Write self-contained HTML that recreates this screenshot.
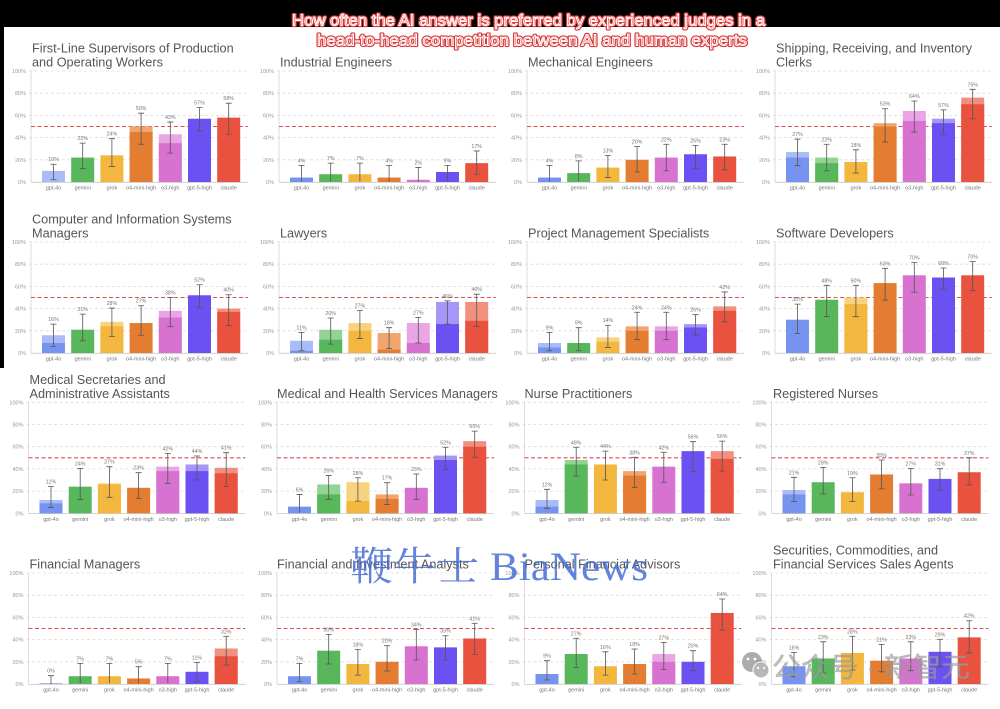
<!DOCTYPE html>
<html><head><meta charset="utf-8"><style>
html,body{margin:0;padding:0;background:#fff;}
svg{display:block;}
text{font-family:"Liberation Sans",Arial,sans-serif;}
.tick{font-size:5.5px;fill:#999;text-anchor:end;}
.val{font-size:5.3px;fill:#777;text-anchor:middle;}
.cat{font-size:5.5px;fill:#777;text-anchor:middle;}
.ttl{font-size:12.7px;fill:#555;}
.err{stroke:#555;stroke-width:.8;fill:none;}
</style></head><body>
<svg width="1000" height="709" viewBox="0 0 1000 709" xmlns="http://www.w3.org/2000/svg">
<defs>
<g id="grid">
<path d="M-2 -22.2H217M-2 -44.4H217M-2 -66.6H217M-2 -88.8H217M-2 -111H217" stroke="#dcdcdc" stroke-width=".8" stroke-dasharray="3 2.5" fill="none"/>
<path d="M0 0V-111" stroke="#d3d3d3" stroke-width=".8"/>
<path d="M0 .3H217" stroke="#c8c8c8" stroke-width=".8"/>
<path d="M0 -55.5H217" stroke="#dc5050" stroke-width="1.1" stroke-dasharray="4 2.5"/>
</g>
</defs>
<rect width="1000" height="709" fill="#fff"/>
<rect x="0" y="0" width="1000" height="27" fill="#000"/>
<rect x="0" y="27" width="4" height="341" fill="#000"/>

<!-- Chart 1 -->
<g transform="translate(31,182)">
<use href="#grid"/>
<g transform="scale(1,-1.11)">
<rect x="11" width="23" height="10" fill="#a9bcf7"/>
<rect x="40.2" width="23" height="22" fill="#58b65b"/>
<rect x="69.4" width="23" height="24" fill="#f3b63f"/>
<rect x="98.6" width="23" height="50" fill="#f0a66e"/><rect x="98.6" width="23" height="45" fill="#e47d31"/>
<rect x="127.8" width="23" height="43" fill="#eaa5e4"/><rect x="127.8" width="23" height="35" fill="#d872d1"/>
<rect x="157" width="23" height="57" fill="#6b50f2"/>
<rect x="186.2" width="23" height="58" fill="#e8523f"/>
<path class="err" vector-effect="non-scaling-stroke" d="M22.5 2V16m-3 0h6M19.5 2h6M51.7 12V35m-3 0h6M48.7 12h6M80.9 14V39m-3 0h6M77.9 14h6M110.1 34V62m-3 0h6M107.1 34h6M139.3 26V54m-3 0h6M136.3 26h6M168.5 46V67m-3 0h6M165.5 46h6M197.7 43V71m-3 0h6M194.7 43h6"/>
</g>
<text class="tick"><tspan x="-5" y="2">0%</tspan><tspan x="-5" y="-20.2">20%</tspan><tspan x="-5" y="-42.4">40%</tspan><tspan x="-5" y="-64.6">60%</tspan><tspan x="-5" y="-86.8">80%</tspan><tspan x="-5" y="-109">100%</tspan></text>
<text class="val"><tspan x="22.5" y="-20.8">10%</tspan><tspan x="51.7" y="-41.9">22%</tspan><tspan x="80.9" y="-46.3">24%</tspan><tspan x="110.1" y="-71.8">50%</tspan><tspan x="139.3" y="-62.9">43%</tspan><tspan x="168.5" y="-77.4">57%</tspan><tspan x="197.7" y="-81.8">58%</tspan></text>
<text class="cat" y="7.5"><tspan x="22.5">gpt-4o</tspan><tspan x="51.7">gemini</tspan><tspan x="80.9">grok</tspan><tspan x="110.1">o4-mini-high</tspan><tspan x="139.3">o3-high</tspan><tspan x="168.5">gpt-5-high</tspan><tspan x="197.7">claude</tspan></text>
<text class="ttl"><tspan x="1" y="-129.5">First-Line Supervisors of Production</tspan><tspan x="1" y="-115.5">and Operating Workers</tspan></text>
</g>

<!-- Chart 2 -->
<g transform="translate(279,182)">
<use href="#grid"/>
<g transform="scale(1,-1.11)">
<rect x="11" width="23" height="4" fill="#7593ef"/>
<rect x="40.2" width="23" height="7" fill="#58b65b"/>
<rect x="69.4" width="23" height="7" fill="#f3b63f"/>
<rect x="98.6" width="23" height="4" fill="#e47d31"/>
<rect x="127.8" width="23" height="2" fill="#d872d1"/>
<rect x="157" width="23" height="9" fill="#6b50f2"/>
<rect x="186.2" width="23" height="17" fill="#e8523f"/>
<path class="err" vector-effect="non-scaling-stroke" d="M22.5 0.5V15m-3 0h6M51.7 0.5V17m-3 0h6M80.9 0.5V17m-3 0h6M110.1 0.5V15m-3 0h6M139.3 0.5V13m-3 0h6M168.5 0.5V15m-3 0h6M197.7 7V28m-3 0h6M194.7 7h6"/>
</g>
<text class="tick"><tspan x="-5" y="2">0%</tspan><tspan x="-5" y="-20.2">20%</tspan><tspan x="-5" y="-42.4">40%</tspan><tspan x="-5" y="-64.6">60%</tspan><tspan x="-5" y="-86.8">80%</tspan><tspan x="-5" y="-109">100%</tspan></text>
<text class="val"><tspan x="22.5" y="-19.7">4%</tspan><tspan x="51.7" y="-21.9">7%</tspan><tspan x="80.9" y="-21.9">7%</tspan><tspan x="110.1" y="-19.7">4%</tspan><tspan x="139.3" y="-17.4">2%</tspan><tspan x="168.5" y="-19.7">9%</tspan><tspan x="197.7" y="-34.1">17%</tspan></text>
<text class="cat" y="7.5"><tspan x="22.5">gpt-4o</tspan><tspan x="51.7">gemini</tspan><tspan x="80.9">grok</tspan><tspan x="110.1">o4-mini-high</tspan><tspan x="139.3">o3-high</tspan><tspan x="168.5">gpt-5-high</tspan><tspan x="197.7">claude</tspan></text>
<text class="ttl"><tspan x="1" y="-115.5">Industrial Engineers</tspan></text>
</g>

<!-- Chart 3 -->
<g transform="translate(527,182)">
<use href="#grid"/>
<g transform="scale(1,-1.11)">
<rect x="11" width="23" height="4" fill="#7593ef"/>
<rect x="40.2" width="23" height="8" fill="#58b65b"/>
<rect x="69.4" width="23" height="13" fill="#f3b63f"/>
<rect x="98.6" width="23" height="20" fill="#e47d31"/>
<rect x="127.8" width="23" height="22" fill="#d872d1"/>
<rect x="157" width="23" height="25" fill="#6b50f2"/>
<rect x="186.2" width="23" height="23" fill="#e8523f"/>
<path class="err" vector-effect="non-scaling-stroke" d="M22.5 0.5V15m-3 0h6M51.7 0.5V19m-3 0h6M80.9 4V24m-3 0h6M77.9 4h6M110.1 9V32m-3 0h6M107.1 9h6M139.3 10V34m-3 0h6M136.3 10h6M168.5 12V33m-3 0h6M165.5 12h6M197.7 11V34m-3 0h6M194.7 11h6"/>
</g>
<text class="tick"><tspan x="-5" y="2">0%</tspan><tspan x="-5" y="-20.2">20%</tspan><tspan x="-5" y="-42.4">40%</tspan><tspan x="-5" y="-64.6">60%</tspan><tspan x="-5" y="-86.8">80%</tspan><tspan x="-5" y="-109">100%</tspan></text>
<text class="val"><tspan x="22.5" y="-19.7">4%</tspan><tspan x="51.7" y="-24.1">8%</tspan><tspan x="80.9" y="-29.6">13%</tspan><tspan x="110.1" y="-38.5">20%</tspan><tspan x="139.3" y="-40.7">22%</tspan><tspan x="168.5" y="-39.6">25%</tspan><tspan x="197.7" y="-40.7">23%</tspan></text>
<text class="cat" y="7.5"><tspan x="22.5">gpt-4o</tspan><tspan x="51.7">gemini</tspan><tspan x="80.9">grok</tspan><tspan x="110.1">o4-mini-high</tspan><tspan x="139.3">o3-high</tspan><tspan x="168.5">gpt-5-high</tspan><tspan x="197.7">claude</tspan></text>
<text class="ttl"><tspan x="1" y="-115.5">Mechanical Engineers</tspan></text>
</g>

<!-- Chart 4 -->
<g transform="translate(775,182)">
<use href="#grid"/>
<g transform="scale(1,-1.11)">
<rect x="11" width="23" height="27" fill="#a9bcf7"/><rect x="11" width="23" height="22" fill="#7593ef"/>
<rect x="40.2" width="23" height="22" fill="#93d394"/><rect x="40.2" width="23" height="17" fill="#58b65b"/>
<rect x="69.4" width="23" height="18" fill="#f3b63f"/>
<rect x="98.6" width="23" height="53" fill="#f0a66e"/><rect x="98.6" width="23" height="50" fill="#e47d31"/>
<rect x="127.8" width="23" height="64" fill="#eaa5e4"/><rect x="127.8" width="23" height="55" fill="#d872d1"/>
<rect x="157" width="23" height="57" fill="#a597f7"/><rect x="157" width="23" height="53" fill="#6b50f2"/>
<rect x="186.2" width="23" height="76" fill="#f29080"/><rect x="186.2" width="23" height="70" fill="#e8523f"/>
<path class="err" vector-effect="non-scaling-stroke" d="M22.5 14.7V38.7m-3 0h6M19.5 14.7h6M51.7 10V34m-3 0h6M48.7 10h6M80.9 8V29m-3 0h6M77.9 8h6M110.1 36V66m-3 0h6M107.1 36h6M139.3 45V73m-3 0h6M136.3 45h6M168.5 43V65m-3 0h6M165.5 43h6M197.7 57V83.5m-3 0h6M194.7 57h6"/>
</g>
<text class="tick"><tspan x="-5" y="2">0%</tspan><tspan x="-5" y="-20.2">20%</tspan><tspan x="-5" y="-42.4">40%</tspan><tspan x="-5" y="-64.6">60%</tspan><tspan x="-5" y="-86.8">80%</tspan><tspan x="-5" y="-109">100%</tspan></text>
<text class="val"><tspan x="22.5" y="-46">27%</tspan><tspan x="51.7" y="-40.7">22%</tspan><tspan x="80.9" y="-35.2">18%</tspan><tspan x="110.1" y="-76.3">53%</tspan><tspan x="139.3" y="-84">64%</tspan><tspan x="168.5" y="-75.2">57%</tspan><tspan x="197.7" y="-95.7">75%</tspan></text>
<text class="cat" y="7.5"><tspan x="22.5">gpt-4o</tspan><tspan x="51.7">gemini</tspan><tspan x="80.9">grok</tspan><tspan x="110.1">o4-mini-high</tspan><tspan x="139.3">o3-high</tspan><tspan x="168.5">gpt-5-high</tspan><tspan x="197.7">claude</tspan></text>
<text class="ttl"><tspan x="1" y="-129.5">Shipping, Receiving, and Inventory</tspan><tspan x="1" y="-115.5">Clerks</tspan></text>
</g>

<!-- Chart 5 -->
<g transform="translate(31,353)">
<use href="#grid"/>
<g transform="scale(1,-1.11)">
<rect x="11" width="23" height="16" fill="#a9bcf7"/><rect x="11" width="23" height="9" fill="#7593ef"/>
<rect x="40.2" width="23" height="21" fill="#58b65b"/>
<rect x="69.4" width="23" height="28" fill="#f8d27c"/><rect x="69.4" width="23" height="24" fill="#f3b63f"/>
<rect x="98.6" width="23" height="27" fill="#e47d31"/>
<rect x="127.8" width="23" height="38" fill="#eaa5e4"/><rect x="127.8" width="23" height="32" fill="#d872d1"/>
<rect x="157" width="23" height="52" fill="#6b50f2"/>
<rect x="186.2" width="23" height="40" fill="#f29080"/><rect x="186.2" width="23" height="37" fill="#e8523f"/>
<path class="err" vector-effect="non-scaling-stroke" d="M22.5 6V26m-3 0h6M19.5 6h6M51.7 11V35m-3 0h6M48.7 11h6M80.9 15V40.5m-3 0h6M77.9 15h6M110.1 16V42.6m-3 0h6M107.1 16h6M139.3 23.7V50m-3 0h6M136.3 23.7h6M168.5 40.8V61.5m-3 0h6M165.5 40.8h6M197.7 24.6V52.5m-3 0h6M194.7 24.6h6"/>
</g>
<text class="tick"><tspan x="-5" y="2">0%</tspan><tspan x="-5" y="-20.2">20%</tspan><tspan x="-5" y="-42.4">40%</tspan><tspan x="-5" y="-64.6">60%</tspan><tspan x="-5" y="-86.8">80%</tspan><tspan x="-5" y="-109">100%</tspan></text>
<text class="val"><tspan x="22.5" y="-31.9">16%</tspan><tspan x="51.7" y="-41.9">21%</tspan><tspan x="80.9" y="-48">28%</tspan><tspan x="110.1" y="-50.3">27%</tspan><tspan x="139.3" y="-58.5">38%</tspan><tspan x="168.5" y="-71.3">52%</tspan><tspan x="197.7" y="-61.3">40%</tspan></text>
<text class="cat" y="7.5"><tspan x="22.5">gpt-4o</tspan><tspan x="51.7">gemini</tspan><tspan x="80.9">grok</tspan><tspan x="110.1">o4-mini-high</tspan><tspan x="139.3">o3-high</tspan><tspan x="168.5">gpt-5-high</tspan><tspan x="197.7">claude</tspan></text>
<text class="ttl"><tspan x="1" y="-129.5">Computer and Information Systems</tspan><tspan x="1" y="-115.5">Managers</tspan></text>
</g>

<!-- Chart 6 -->
<g transform="translate(279,353)">
<use href="#grid"/>
<g transform="scale(1,-1.11)">
<rect x="11" width="23" height="11" fill="#a9bcf7"/><rect x="11" width="23" height="2" fill="#7593ef"/>
<rect x="40.2" width="23" height="21" fill="#93d394"/><rect x="40.2" width="23" height="12" fill="#58b65b"/>
<rect x="69.4" width="23" height="27" fill="#f8d27c"/><rect x="69.4" width="23" height="20" fill="#f3b63f"/>
<rect x="98.6" width="23" height="18" fill="#f0a66e"/><rect x="98.6" width="23" height="3" fill="#e47d31"/>
<rect x="127.8" width="23" height="27" fill="#eaa5e4"/><rect x="127.8" width="23" height="9" fill="#d872d1"/>
<rect x="157" width="23" height="46" fill="#a597f7"/><rect x="157" width="23" height="26" fill="#6b50f2"/>
<rect x="186.2" width="23" height="46" fill="#f29080"/><rect x="186.2" width="23" height="29" fill="#e8523f"/>
<path class="err" vector-effect="non-scaling-stroke" d="M22.5 2V18.6m-3 0h6M19.5 2h6M51.7 8V31.5m-3 0h6M48.7 8h6M80.9 13V38.4m-3 0h6M77.9 13h6M110.1 4V22.8m-3 0h6M107.1 4h6M139.3 9V32.1m-3 0h6M136.3 9h6M168.5 26V47m-3 0h6M165.5 26h6M197.7 24V53m-3 0h6M194.7 24h6"/>
</g>
<text class="tick"><tspan x="-5" y="2">0%</tspan><tspan x="-5" y="-20.2">20%</tspan><tspan x="-5" y="-42.4">40%</tspan><tspan x="-5" y="-64.6">60%</tspan><tspan x="-5" y="-86.8">80%</tspan><tspan x="-5" y="-109">100%</tspan></text>
<text class="val"><tspan x="22.5" y="-23.6">11%</tspan><tspan x="51.7" y="-38">20%</tspan><tspan x="80.9" y="-45.6">27%</tspan><tspan x="110.1" y="-28.3">18%</tspan><tspan x="139.3" y="-38.6">27%</tspan><tspan x="168.5" y="-55.2">46%</tspan><tspan x="197.7" y="-61.8">46%</tspan></text>
<text class="cat" y="7.5"><tspan x="22.5">gpt-4o</tspan><tspan x="51.7">gemini</tspan><tspan x="80.9">grok</tspan><tspan x="110.1">o4-mini-high</tspan><tspan x="139.3">o3-high</tspan><tspan x="168.5">gpt-5-high</tspan><tspan x="197.7">claude</tspan></text>
<text class="ttl"><tspan x="1" y="-115.5">Lawyers</tspan></text>
</g>

<!-- Chart 7 -->
<g transform="translate(527,353)">
<use href="#grid"/>
<g transform="scale(1,-1.11)">
<rect x="11" width="23" height="9" fill="#a9bcf7"/><rect x="11" width="23" height="5" fill="#7593ef"/>
<rect x="40.2" width="23" height="9" fill="#58b65b"/>
<rect x="69.4" width="23" height="14" fill="#f8d27c"/><rect x="69.4" width="23" height="10" fill="#f3b63f"/>
<rect x="98.6" width="23" height="24" fill="#f0a66e"/><rect x="98.6" width="23" height="20" fill="#e47d31"/>
<rect x="127.8" width="23" height="24" fill="#eaa5e4"/><rect x="127.8" width="23" height="20" fill="#d872d1"/>
<rect x="157" width="23" height="26" fill="#a597f7"/><rect x="157" width="23" height="23" fill="#6b50f2"/>
<rect x="186.2" width="23" height="42" fill="#f29080"/><rect x="186.2" width="23" height="38" fill="#e8523f"/>
<path class="err" vector-effect="non-scaling-stroke" d="M22.5 2V18.6m-3 0h6M19.5 2h6M51.7 2V22.8m-3 0h6M48.7 2h6M80.9 5V25m-3 0h6M77.9 5h6M110.1 12V36.7m-3 0h6M107.1 12h6M139.3 12V36.7m-3 0h6M136.3 12h6M168.5 16V34.5m-3 0h6M165.5 16h6M197.7 28V55m-3 0h6M194.7 28h6"/>
</g>
<text class="tick"><tspan x="-5" y="2">0%</tspan><tspan x="-5" y="-20.2">20%</tspan><tspan x="-5" y="-42.4">40%</tspan><tspan x="-5" y="-64.6">60%</tspan><tspan x="-5" y="-86.8">80%</tspan><tspan x="-5" y="-109">100%</tspan></text>
<text class="val"><tspan x="22.5" y="-23.6">9%</tspan><tspan x="51.7" y="-28.3">9%</tspan><tspan x="80.9" y="-30.8">14%</tspan><tspan x="110.1" y="-43.7">24%</tspan><tspan x="139.3" y="-43.7">24%</tspan><tspan x="168.5" y="-41.3">26%</tspan><tspan x="197.7" y="-64">42%</tspan></text>
<text class="cat" y="7.5"><tspan x="22.5">gpt-4o</tspan><tspan x="51.7">gemini</tspan><tspan x="80.9">grok</tspan><tspan x="110.1">o4-mini-high</tspan><tspan x="139.3">o3-high</tspan><tspan x="168.5">gpt-5-high</tspan><tspan x="197.7">claude</tspan></text>
<text class="ttl"><tspan x="1" y="-115.5">Project Management Specialists</tspan></text>
</g>

<!-- Chart 8 -->
<g transform="translate(775,353)">
<use href="#grid"/>
<g transform="scale(1,-1.11)">
<rect x="11" width="23" height="30" fill="#7593ef"/>
<rect x="40.2" width="23" height="48" fill="#58b65b"/>
<rect x="69.4" width="23" height="50" fill="#f8d27c"/><rect x="69.4" width="23" height="44" fill="#f3b63f"/>
<rect x="98.6" width="23" height="63" fill="#e47d31"/>
<rect x="127.8" width="23" height="70" fill="#d872d1"/>
<rect x="157" width="23" height="68" fill="#6b50f2"/>
<rect x="186.2" width="23" height="70" fill="#e8523f"/>
<path class="err" vector-effect="non-scaling-stroke" d="M22.5 17.7V44m-3 0h6M19.5 17.7h6M51.7 32.7V61m-3 0h6M48.7 32.7h6M80.9 32.7V61m-3 0h6M77.9 32.7h6M110.1 47.7V76.3m-3 0h6M107.1 47.7h6M139.3 54.7V81.4m-3 0h6M136.3 54.7h6M168.5 57.4V76.6m-3 0h6M165.5 57.4h6M197.7 56.1V82.3m-3 0h6M194.7 56.1h6"/>
</g>
<text class="tick"><tspan x="-5" y="2">0%</tspan><tspan x="-5" y="-20.2">20%</tspan><tspan x="-5" y="-42.4">40%</tspan><tspan x="-5" y="-64.6">60%</tspan><tspan x="-5" y="-86.8">80%</tspan><tspan x="-5" y="-109">100%</tspan></text>
<text class="val"><tspan x="22.5" y="-51.8">30%</tspan><tspan x="51.7" y="-70.7">48%</tspan><tspan x="80.9" y="-70.7">50%</tspan><tspan x="110.1" y="-87.7">63%</tspan><tspan x="139.3" y="-93.4">70%</tspan><tspan x="168.5" y="-88">68%</tspan><tspan x="197.7" y="-94.4">70%</tspan></text>
<text class="cat" y="7.5"><tspan x="22.5">gpt-4o</tspan><tspan x="51.7">gemini</tspan><tspan x="80.9">grok</tspan><tspan x="110.1">o4-mini-high</tspan><tspan x="139.3">o3-high</tspan><tspan x="168.5">gpt-5-high</tspan><tspan x="197.7">claude</tspan></text>
<text class="ttl"><tspan x="1" y="-115.5">Software Developers</tspan></text>
</g>

<!-- Chart 9 -->
<g transform="translate(28.5,513.3)">
<use href="#grid"/>
<g transform="scale(1,-1.11)">
<rect x="11" width="23" height="12" fill="#a9bcf7"/><rect x="11" width="23" height="9" fill="#7593ef"/>
<rect x="40.2" width="23" height="24" fill="#58b65b"/>
<rect x="69.4" width="23" height="27" fill="#f8d27c"/><rect x="69.4" width="23" height="26" fill="#f3b63f"/>
<rect x="98.6" width="23" height="23" fill="#e47d31"/>
<rect x="127.8" width="23" height="42" fill="#eaa5e4"/><rect x="127.8" width="23" height="38" fill="#d872d1"/>
<rect x="157" width="23" height="44" fill="#a597f7"/><rect x="157" width="23" height="38" fill="#6b50f2"/>
<rect x="186.2" width="23" height="41" fill="#f29080"/><rect x="186.2" width="23" height="36" fill="#e8523f"/>
<path class="err" vector-effect="non-scaling-stroke" d="M22.5 5.4V24m-3 0h6M19.5 5.4h6M51.7 12.6V40.5m-3 0h6M48.7 12.6h6M80.9 14.4V42m-3 0h6M77.9 14.4h6M110.1 13.5V36.6m-3 0h6M107.1 13.5h6M139.3 27V54m-3 0h6M136.3 27h6M168.5 30V51.6m-3 0h6M165.5 30h6M197.7 24V54.6m-3 0h6M194.7 24h6"/>
</g>
<text class="tick"><tspan x="-5" y="2">0%</tspan><tspan x="-5" y="-20.2">20%</tspan><tspan x="-5" y="-42.4">40%</tspan><tspan x="-5" y="-64.6">60%</tspan><tspan x="-5" y="-86.8">80%</tspan><tspan x="-5" y="-109">100%</tspan></text>
<text class="val"><tspan x="22.5" y="-29.6">12%</tspan><tspan x="51.7" y="-48">24%</tspan><tspan x="80.9" y="-49.6">27%</tspan><tspan x="110.1" y="-43.6">23%</tspan><tspan x="139.3" y="-63">42%</tspan><tspan x="168.5" y="-60.3">44%</tspan><tspan x="197.7" y="-63.6">41%</tspan></text>
<text class="cat" y="7.5"><tspan x="22.5">gpt-4o</tspan><tspan x="51.7">gemini</tspan><tspan x="80.9">grok</tspan><tspan x="110.1">o4-mini-high</tspan><tspan x="139.3">o3-high</tspan><tspan x="168.5">gpt-5-high</tspan><tspan x="197.7">claude</tspan></text>
<text class="ttl"><tspan x="1" y="-129.5">Medical Secretaries and</tspan><tspan x="1" y="-115.5">Administrative Assistants</tspan></text>
</g>

<!-- Chart 10 -->
<g transform="translate(277,513.3)">
<use href="#grid"/>
<g transform="scale(1,-1.11)">
<rect x="11" width="23" height="6" fill="#7593ef"/>
<rect x="40.2" width="23" height="26" fill="#93d394"/><rect x="40.2" width="23" height="17" fill="#58b65b"/>
<rect x="69.4" width="23" height="28" fill="#f8d27c"/><rect x="69.4" width="23" height="11" fill="#f3b63f"/>
<rect x="98.6" width="23" height="17" fill="#f0a66e"/><rect x="98.6" width="23" height="13" fill="#e47d31"/>
<rect x="127.8" width="23" height="23" fill="#d872d1"/>
<rect x="157" width="23" height="52" fill="#a597f7"/><rect x="157" width="23" height="48" fill="#6b50f2"/>
<rect x="186.2" width="23" height="65" fill="#f29080"/><rect x="186.2" width="23" height="60" fill="#e8523f"/>
<path class="err" vector-effect="non-scaling-stroke" d="M22.5 0.5V17m-3 0h6M51.7 12.6V34m-3 0h6M48.7 12.6h6M80.9 11V32m-3 0h6M77.9 11h6M110.1 8V27.6m-3 0h6M107.1 8h6M139.3 12.6V35.4m-3 0h6M136.3 12.6h6M168.5 39.6V59.5m-3 0h6M165.5 39.6h6M197.7 50.5V74m-3 0h6M194.7 50.5h6"/>
</g>
<text class="tick"><tspan x="-5" y="2">0%</tspan><tspan x="-5" y="-20.2">20%</tspan><tspan x="-5" y="-42.4">40%</tspan><tspan x="-5" y="-64.6">60%</tspan><tspan x="-5" y="-86.8">80%</tspan><tspan x="-5" y="-109">100%</tspan></text>
<text class="val"><tspan x="22.5" y="-21.9">6%</tspan><tspan x="51.7" y="-40.7">26%</tspan><tspan x="80.9" y="-38.5">28%</tspan><tspan x="110.1" y="-33.6">17%</tspan><tspan x="139.3" y="-42.3">23%</tspan><tspan x="168.5" y="-69">52%</tspan><tspan x="197.7" y="-85.1">65%</tspan></text>
<text class="cat" y="7.5"><tspan x="22.5">gpt-4o</tspan><tspan x="51.7">gemini</tspan><tspan x="80.9">grok</tspan><tspan x="110.1">o4-mini-high</tspan><tspan x="139.3">o3-high</tspan><tspan x="168.5">gpt-5-high</tspan><tspan x="197.7">claude</tspan></text>
<text class="ttl"><tspan x="0" y="-115.5">Medical and Health Services Managers</tspan></text>
</g>

<!-- Chart 11 -->
<g transform="translate(524.5,513.3)">
<use href="#grid"/>
<g transform="scale(1,-1.11)">
<rect x="11" width="23" height="12" fill="#a9bcf7"/><rect x="11" width="23" height="6" fill="#7593ef"/>
<rect x="40.2" width="23" height="48" fill="#93d394"/><rect x="40.2" width="23" height="44" fill="#58b65b"/>
<rect x="69.4" width="23" height="44" fill="#f3b63f"/>
<rect x="98.6" width="23" height="38" fill="#f0a66e"/><rect x="98.6" width="23" height="34" fill="#e47d31"/>
<rect x="127.8" width="23" height="42" fill="#d872d1"/>
<rect x="157" width="23" height="56" fill="#6b50f2"/>
<rect x="186.2" width="23" height="56" fill="#f29080"/><rect x="186.2" width="23" height="49" fill="#e8523f"/>
<path class="err" vector-effect="non-scaling-stroke" d="M22.5 4.5V21.6m-3 0h6M19.5 4.5h6M51.7 33.6V59.5m-3 0h6M48.7 33.6h6M80.9 30V56m-3 0h6M77.9 30h6M110.1 23.4V50.5m-3 0h6M107.1 23.4h6M139.3 28V55m-3 0h6M136.3 28h6M168.5 37.5V64.5m-3 0h6M165.5 37.5h6M197.7 38V65m-3 0h6M194.7 38h6"/>
</g>
<text class="tick"><tspan x="-5" y="2">0%</tspan><tspan x="-5" y="-20.2">20%</tspan><tspan x="-5" y="-42.4">40%</tspan><tspan x="-5" y="-64.6">60%</tspan><tspan x="-5" y="-86.8">80%</tspan><tspan x="-5" y="-109">100%</tspan></text>
<text class="val"><tspan x="22.5" y="-27">12%</tspan><tspan x="51.7" y="-69">48%</tspan><tspan x="80.9" y="-65.2">44%</tspan><tspan x="110.1" y="-59">38%</tspan><tspan x="139.3" y="-64">42%</tspan><tspan x="168.5" y="-74.6">56%</tspan><tspan x="197.7" y="-75.2">56%</tspan></text>
<text class="cat" y="7.5"><tspan x="22.5">gpt-4o</tspan><tspan x="51.7">gemini</tspan><tspan x="80.9">grok</tspan><tspan x="110.1">o4-mini-high</tspan><tspan x="139.3">o3-high</tspan><tspan x="168.5">gpt-5-high</tspan><tspan x="197.7">claude</tspan></text>
<text class="ttl"><tspan x="0" y="-115.5">Nurse Practitioners</tspan></text>
</g>

<!-- Chart 12 -->
<g transform="translate(771.5,513.3)">
<use href="#grid"/>
<g transform="scale(1,-1.11)">
<rect x="11" width="23" height="21" fill="#a9bcf7"/><rect x="11" width="23" height="17" fill="#7593ef"/>
<rect x="40.2" width="23" height="28" fill="#58b65b"/>
<rect x="69.4" width="23" height="19" fill="#f3b63f"/>
<rect x="98.6" width="23" height="35" fill="#e47d31"/>
<rect x="127.8" width="23" height="27" fill="#d872d1"/>
<rect x="157" width="23" height="31" fill="#6b50f2"/>
<rect x="186.2" width="23" height="37" fill="#e8523f"/>
<path class="err" vector-effect="non-scaling-stroke" d="M22.5 10.5V32.4m-3 0h6M19.5 10.5h6M51.7 17.4V41.4m-3 0h6M48.7 17.4h6M80.9 10.5V32m-3 0h6M77.9 10.5h6M110.1 22V48m-3 0h6M107.1 22h6M139.3 16.5V40.5m-3 0h6M136.3 16.5h6M168.5 21V40.2m-3 0h6M165.5 21h6M197.7 25.5V50m-3 0h6M194.7 25.5h6"/>
</g>
<text class="tick"><tspan x="-5" y="2">0%</tspan><tspan x="-5" y="-20.2">20%</tspan><tspan x="-5" y="-42.4">40%</tspan><tspan x="-5" y="-64.6">60%</tspan><tspan x="-5" y="-86.8">80%</tspan><tspan x="-5" y="-109">100%</tspan></text>
<text class="val"><tspan x="22.5" y="-39">21%</tspan><tspan x="51.7" y="-49">28%</tspan><tspan x="80.9" y="-38.5">19%</tspan><tspan x="110.1" y="-56.3">35%</tspan><tspan x="139.3" y="-48">27%</tspan><tspan x="168.5" y="-47.6">31%</tspan><tspan x="197.7" y="-58.5">37%</tspan></text>
<text class="cat" y="7.5"><tspan x="22.5">gpt-4o</tspan><tspan x="51.7">gemini</tspan><tspan x="80.9">grok</tspan><tspan x="110.1">o4-mini-high</tspan><tspan x="139.3">o3-high</tspan><tspan x="168.5">gpt-5-high</tspan><tspan x="197.7">claude</tspan></text>
<text class="ttl"><tspan x="1.5" y="-115.5">Registered Nurses</tspan></text>
</g>

<!-- Chart 13 -->
<g transform="translate(28.5,684)">
<use href="#grid"/>
<g transform="scale(1,-1.11)">
<rect x="11" width="23" height="0.6" fill="#7593ef"/>
<rect x="40.2" width="23" height="7" fill="#58b65b"/>
<rect x="69.4" width="23" height="7" fill="#f3b63f"/>
<rect x="98.6" width="23" height="5" fill="#e47d31"/>
<rect x="127.8" width="23" height="7" fill="#d872d1"/>
<rect x="157" width="23" height="11" fill="#6b50f2"/>
<rect x="186.2" width="23" height="32" fill="#f29080"/><rect x="186.2" width="23" height="25" fill="#e8523f"/>
<path class="err" vector-effect="non-scaling-stroke" d="M22.5 0V7.5m-3 0h6M51.7 0.8V18.6m-3 0h6M80.9 0.8V18.6m-3 0h6M110.1 0.5V15.6m-3 0h6M139.3 0.8V18.6m-3 0h6M168.5 2V19.5m-3 0h6M165.5 2h6M197.7 17V43m-3 0h6M194.7 17h6"/>
</g>
<text class="tick"><tspan x="-5" y="2">0%</tspan><tspan x="-5" y="-20.2">20%</tspan><tspan x="-5" y="-42.4">40%</tspan><tspan x="-5" y="-64.6">60%</tspan><tspan x="-5" y="-86.8">80%</tspan><tspan x="-5" y="-109">100%</tspan></text>
<text class="val"><tspan x="22.5" y="-11.3">0%</tspan><tspan x="51.7" y="-23.6">7%</tspan><tspan x="80.9" y="-23.6">7%</tspan><tspan x="110.1" y="-20.3">5%</tspan><tspan x="139.3" y="-23.6">7%</tspan><tspan x="168.5" y="-24.6">11%</tspan><tspan x="197.7" y="-50.7">32%</tspan></text>
<text class="cat" y="7.5"><tspan x="22.5">gpt-4o</tspan><tspan x="51.7">gemini</tspan><tspan x="80.9">grok</tspan><tspan x="110.1">o4-mini-high</tspan><tspan x="139.3">o3-high</tspan><tspan x="168.5">gpt-5-high</tspan><tspan x="197.7">claude</tspan></text>
<text class="ttl"><tspan x="1" y="-115.5">Financial Managers</tspan></text>
</g>

<!-- Chart 14 -->
<g transform="translate(277,684)">
<use href="#grid"/>
<g transform="scale(1,-1.11)">
<rect x="11" width="23" height="7" fill="#7593ef"/>
<rect x="40.2" width="23" height="30" fill="#58b65b"/>
<rect x="69.4" width="23" height="18" fill="#f3b63f"/>
<rect x="98.6" width="23" height="20" fill="#e47d31"/>
<rect x="127.8" width="23" height="34" fill="#d872d1"/>
<rect x="157" width="23" height="33" fill="#6b50f2"/>
<rect x="186.2" width="23" height="41" fill="#e8523f"/>
<path class="err" vector-effect="non-scaling-stroke" d="M22.5 2V18.6m-3 0h6M19.5 2h6M51.7 18V44.7m-3 0h6M48.7 18h6M80.9 8V31.2m-3 0h6M77.9 8h6M110.1 11.7V34.5m-3 0h6M107.1 11.7h6M139.3 21.6V49.2m-3 0h6M136.3 21.6h6M168.5 21.6V43.5m-3 0h6M165.5 21.6h6M197.7 26.7V54.7m-3 0h6M194.7 26.7h6"/>
</g>
<text class="tick"><tspan x="-5" y="2">0%</tspan><tspan x="-5" y="-20.2">20%</tspan><tspan x="-5" y="-42.4">40%</tspan><tspan x="-5" y="-64.6">60%</tspan><tspan x="-5" y="-86.8">80%</tspan><tspan x="-5" y="-109">100%</tspan></text>
<text class="val"><tspan x="22.5" y="-23.6">7%</tspan><tspan x="51.7" y="-52.6">30%</tspan><tspan x="80.9" y="-37.6">18%</tspan><tspan x="110.1" y="-41.3">20%</tspan><tspan x="139.3" y="-57.6">34%</tspan><tspan x="168.5" y="-51.3">33%</tspan><tspan x="197.7" y="-63.7">41%</tspan></text>
<text class="cat" y="7.5"><tspan x="22.5">gpt-4o</tspan><tspan x="51.7">gemini</tspan><tspan x="80.9">grok</tspan><tspan x="110.1">o4-mini-high</tspan><tspan x="139.3">o3-high</tspan><tspan x="168.5">gpt-5-high</tspan><tspan x="197.7">claude</tspan></text>
<text class="ttl"><tspan x="0" y="-115.5">Financial and Investment Analysts</tspan></text>
</g>

<!-- Chart 15 -->
<g transform="translate(524.5,684)">
<use href="#grid"/>
<g transform="scale(1,-1.11)">
<rect x="11" width="23" height="9" fill="#7593ef"/>
<rect x="40.2" width="23" height="27" fill="#58b65b"/>
<rect x="69.4" width="23" height="16" fill="#f3b63f"/>
<rect x="98.6" width="23" height="18" fill="#e47d31"/>
<rect x="127.8" width="23" height="27" fill="#eaa5e4"/><rect x="127.8" width="23" height="20" fill="#d872d1"/>
<rect x="157" width="23" height="20" fill="#6b50f2"/>
<rect x="186.2" width="23" height="64" fill="#e8523f"/>
<path class="err" vector-effect="non-scaling-stroke" d="M22.5 3.6V21m-3 0h6M19.5 3.6h6M51.7 15V41.2m-3 0h6M48.7 15h6M80.9 8V29m-3 0h6M77.9 8h6M110.1 9V31.5m-3 0h6M107.1 9h6M139.3 13.2V37.5m-3 0h6M136.3 13.2h6M168.5 12V30m-3 0h6M165.5 12h6M197.7 48.6V76.6m-3 0h6M194.7 48.6h6"/>
</g>
<text class="tick"><tspan x="-5" y="2">0%</tspan><tspan x="-5" y="-20.2">20%</tspan><tspan x="-5" y="-42.4">40%</tspan><tspan x="-5" y="-64.6">60%</tspan><tspan x="-5" y="-86.8">80%</tspan><tspan x="-5" y="-109">100%</tspan></text>
<text class="val"><tspan x="22.5" y="-26.3">9%</tspan><tspan x="51.7" y="-48.7">27%</tspan><tspan x="80.9" y="-35.2">16%</tspan><tspan x="110.1" y="-38">18%</tspan><tspan x="139.3" y="-44.6">27%</tspan><tspan x="168.5" y="-36.3">20%</tspan><tspan x="197.7" y="-88">64%</tspan></text>
<text class="cat" y="7.5"><tspan x="22.5">gpt-4o</tspan><tspan x="51.7">gemini</tspan><tspan x="80.9">grok</tspan><tspan x="110.1">o4-mini-high</tspan><tspan x="139.3">o3-high</tspan><tspan x="168.5">gpt-5-high</tspan><tspan x="197.7">claude</tspan></text>
<text class="ttl"><tspan x="0" y="-115.5">Personal Financial Advisors</tspan></text>
</g>

<!-- Chart 16 -->
<g transform="translate(771.5,684)">
<use href="#grid"/>
<g transform="scale(1,-1.11)">
<rect x="11" width="23" height="16" fill="#7593ef"/>
<rect x="40.2" width="23" height="23" fill="#58b65b"/>
<rect x="69.4" width="23" height="28" fill="#f3b63f"/>
<rect x="98.6" width="23" height="21" fill="#e47d31"/>
<rect x="127.8" width="23" height="23" fill="#d872d1"/>
<rect x="157" width="23" height="29" fill="#6b50f2"/>
<rect x="186.2" width="23" height="42" fill="#e8523f"/>
<path class="err" vector-effect="non-scaling-stroke" d="M22.5 6.6V28.5m-3 0h6M19.5 6.6h6M51.7 10V38m-3 0h6M48.7 10h6M80.9 12.6V43m-3 0h6M77.9 12.6h6M110.1 11V35.7m-3 0h6M107.1 11h6M139.3 12V38m-3 0h6M136.3 12h6M168.5 15.6V40.3m-3 0h6M165.5 15.6h6M197.7 28V57m-3 0h6M194.7 28h6"/>
</g>
<text class="tick"><tspan x="-5" y="2">0%</tspan><tspan x="-5" y="-20.2">20%</tspan><tspan x="-5" y="-42.4">40%</tspan><tspan x="-5" y="-64.6">60%</tspan><tspan x="-5" y="-86.8">80%</tspan><tspan x="-5" y="-109">100%</tspan></text>
<text class="val"><tspan x="22.5" y="-34.6">16%</tspan><tspan x="51.7" y="-45.2">23%</tspan><tspan x="80.9" y="-50.7">28%</tspan><tspan x="110.1" y="-42.6">21%</tspan><tspan x="139.3" y="-45.2">23%</tspan><tspan x="168.5" y="-47.7">29%</tspan><tspan x="197.7" y="-66.3">42%</tspan></text>
<text class="cat" y="7.5"><tspan x="22.5">gpt-4o</tspan><tspan x="51.7">gemini</tspan><tspan x="80.9">grok</tspan><tspan x="110.1">o4-mini-high</tspan><tspan x="139.3">o3-high</tspan><tspan x="168.5">gpt-5-high</tspan><tspan x="197.7">claude</tspan></text>
<text class="ttl"><tspan x="1.5" y="-129.5">Securities, Commodities, and</tspan><tspan x="1.5" y="-115.5">Financial Services Sales Agents</tspan></text>
</g>

<!-- Main title -->
<text x="292" y="25.5" textLength="473" lengthAdjust="spacingAndGlyphs" style="font-family:'Liberation Sans',Arial,sans-serif;font-size:15.5px;" fill="#d93b3b" stroke="#d93b3b" stroke-width="3.2" stroke-linejoin="round">How often the AI answer is preferred by experienced judges in a</text>
<text x="292" y="25.5" textLength="473" lengthAdjust="spacingAndGlyphs" style="font-family:'Liberation Sans',Arial,sans-serif;font-size:15.5px;" fill="#e8403e" stroke="#ffffff" stroke-width="0.9" stroke-linejoin="round">How often the AI answer is preferred by experienced judges in a</text>
<text x="317" y="45.5" textLength="430" lengthAdjust="spacingAndGlyphs" style="font-family:'Liberation Sans',Arial,sans-serif;font-size:15.5px;" fill="#d93b3b" stroke="#d93b3b" stroke-width="3.2" stroke-linejoin="round">head-to-head competition between AI and human experts</text>
<text x="317" y="45.5" textLength="430" lengthAdjust="spacingAndGlyphs" style="font-family:'Liberation Sans',Arial,sans-serif;font-size:15.5px;" fill="#e8403e" stroke="#ffffff" stroke-width="0.9" stroke-linejoin="round">head-to-head competition between AI and human experts</text>

<!-- Watermarks -->
<text x="350" y="580" textLength="298" lengthAdjust="spacingAndGlyphs" style="font-family:'Liberation Serif','Noto Serif CJK SC',serif;font-size:40px;" fill="#3f68d2" fill-opacity="0.82">鞭牛士 BiaNews</text>

<g opacity="0.7">
<circle cx="752" cy="662" r="10" fill="#8a8a8a"/>
<circle cx="761" cy="670" r="8" fill="#9a9a9a" stroke="#fff" stroke-width="1"/>
<circle cx="748" cy="659" r="1.4" fill="#fff"/><circle cx="755" cy="659" r="1.4" fill="#fff"/>
<circle cx="758" cy="668" r="1.1" fill="#fff"/><circle cx="764" cy="668" r="1.1" fill="#fff"/>
</g>
<text x="772" y="677" textLength="198" lengthAdjust="spacingAndGlyphs" style="font-family:'Liberation Sans','Noto Sans CJK SC',sans-serif;font-size:27px;" fill="#a0a0a0" fill-opacity="0.65" stroke="#888" stroke-width="0.5" stroke-opacity="0.6">公众号 · 新智元</text>
</svg>
</body></html>
